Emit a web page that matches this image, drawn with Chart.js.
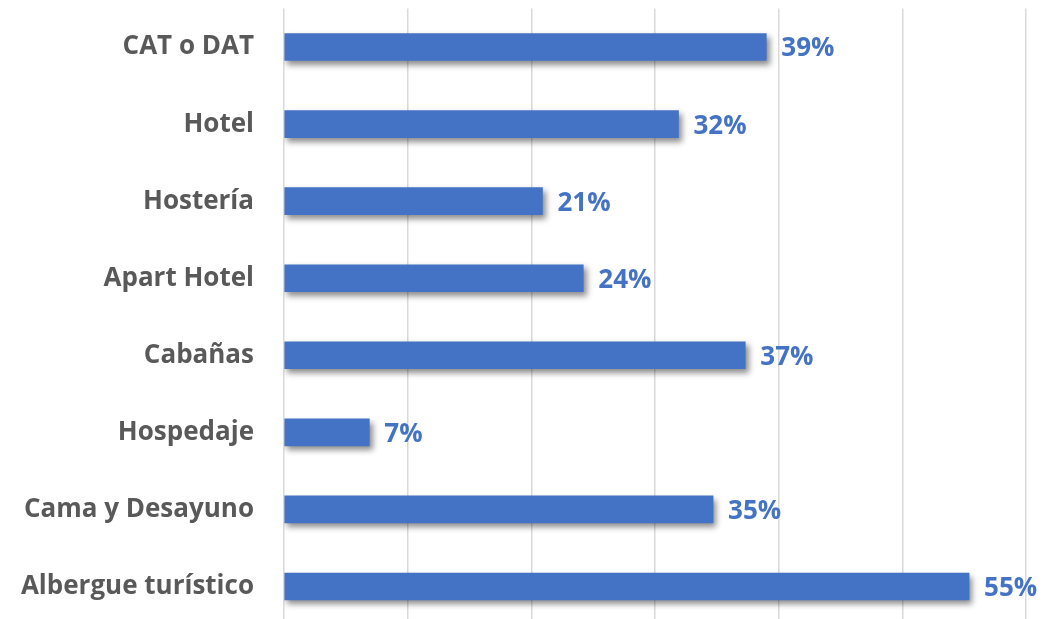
<!DOCTYPE html>
<html>
<head>
<meta charset="utf-8">
<script src="https://cdn.jsdelivr.net/npm/chart.js@4/dist/chart.umd.min.js"></script>
<style>
html, body { margin: 0; padding: 0; background: #fff; overflow: hidden; }
#wrap { width: 1046px; height: 625px; }
#wrap canvas { display: block; }
</style>
</head>
<body>
<div id="wrap"><canvas id="chart"></canvas></div>
<script>
// datos del gráfico
const categories = ['CAT o DAT', 'Hotel', 'Hostería', 'Apart Hotel', 'Cabañas', 'Hospedaje', 'Cama y Desayuno', 'Albergue turístico'];
const percents = [39.0, 31.9, 20.9, 24.2, 37.3, 6.9, 34.7, 55.4];
const xTicks = [0, 10, 20, 30, 40, 50, 60];

const FONT = "'Open Sans', sans-serif";

// sombra debajo de las barras
const barShadow = {
    id: 'barShadow',
    beforeDatasetsDraw(chart) {
        const ctx = chart.ctx;
        ctx.save();
        ctx.shadowColor = 'rgba(0,0,0,0.45)';
        ctx.shadowBlur = 6;
        ctx.shadowOffsetX = 3;
        ctx.shadowOffsetY = 4;
    },
    afterDatasetsDraw(chart) {
        chart.ctx.restore();
    }
};

// etiquetas de valor a la derecha de cada barra
const valueLabels = {
    id: 'valueLabels',
    afterDatasetsDraw(chart) {
        const { ctx } = chart;
        const meta = chart.getDatasetMeta(0);
        const ds = chart.data.datasets[0];
        ctx.save();
        ctx.fillStyle = '#4472C4';
        ctx.font = `bold 26px ${FONT}`;
        ctx.textAlign = 'left';
        ctx.textBaseline = 'middle';
        meta.data.forEach((bar, i) => {
            ctx.fillText(Math.round(ds.data[i]) + '%', bar.x + 15, bar.y + 2);
        });
        ctx.restore();
    }
};

new Chart(document.getElementById('chart'), {
    type: 'bar',
    data: {
        labels: categories,
        datasets: [{
            data: percents,
            backgroundColor: '#4472C4',
            borderWidth: 0,
            barThickness: 27
        }]
    },
    options: {
        indexAxis: 'y',
        responsive: true,
        maintainAspectRatio: false,
        animation: false,
        layout: { padding: { top: 8.5, right: 20, bottom: 0, left: 0 } },
        scales: {
            x: {
                min: 0, max: 60,
                afterBuildTicks: (axis) => { axis.ticks = xTicks.map(v => ({ value: v })); },
                grid: { color: '#d9d9d9', lineWidth: 1.5, drawTicks: false },
                border: { display: false },
                ticks: { display: false }
            },
            y: {
                afterFit: (scale) => { scale.width = 284; scale.paddingTop = 0; scale.paddingBottom = 0; },
                grid: { display: false, drawTicks: false, tickLength: 0 },
                border: { display: false },
                ticks: {
                    color: '#595959',
                    font: { family: FONT, size: 26, weight: 'bold' },
                    padding: 30
                }
            }
        },
        plugins: {
            legend: { display: false },
            tooltip: { enabled: false }
        }
    },
    plugins: [barShadow, valueLabels]
});
</script>
</body>
</html>
